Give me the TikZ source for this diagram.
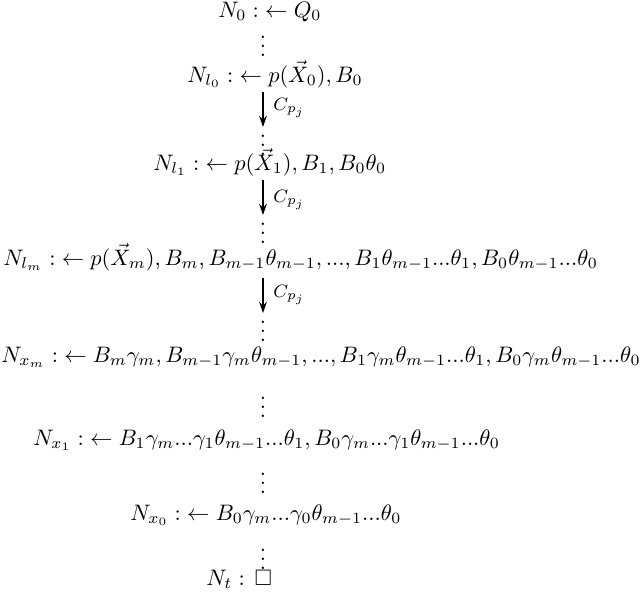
\documentclass[tikz,border=0pt]{standalone}
\usepackage{amsmath,amssymb}
\usetikzlibrary{arrows.meta}
\begin{document}
\begin{tikzpicture}[x=0.5pt,y=-0.5pt,
  every node/.style={scale=1.12},
  line/.style={anchor=base west,inner sep=0pt},
  dts/.style={inner sep=0pt},
  stepar/.style={line width=1.3pt,-{Stealth[length=5.5pt,width=3.8pt]}},
  lab/.style={anchor=west,inner sep=0pt,font=\footnotesize}]
\useasboundingbox (0,0) rectangle (640,600);
\node[line] (n0) at (218,17) {$N_0 :\; \leftarrow Q_0$};
\node[dts] (d0) at (263,40) {$\vdots$};
\node[line] (l0) at (187,82) {$N_{l_0} :\; \leftarrow p(\vec{X}_0), B_0$};
\coordinate (a1s) at (263,92);
\coordinate (a1e) at (263,127);
\node[dts] (d1) at (263,139) {$\vdots$};
\draw[stepar] (a1s) -- (a1e);
\node[lab] (c1) at (273,108) {$C_{p_j}$};
\node[line] (l1) at (153,170) {$N_{l_1} :\; \leftarrow p(\vec{X}_1), B_1, B_0\theta_0$};
\coordinate (a2s) at (263,180);
\coordinate (a2e) at (263,215);
\draw[stepar] (a2s) -- (a2e);
\node[lab] (c2) at (273,200) {$C_{p_j}$};
\node[dts] (d2) at (263,227) {$\vdots$};
\node[line] (lm) at (3,265) {$N_{l_m} :\; \leftarrow p(\vec{X}_m), B_m, B_{m-1}\theta_{m-1}, ..., B_1\theta_{m-1}...\theta_1, B_0\theta_{m-1}...\theta_0$};
\coordinate (a3s) at (263,278);
\coordinate (a3e) at (263,313);
\draw[stepar] (a3s) -- (a3e);
\node[lab] (c3) at (273,295) {$C_{p_j}$};
\node[dts] (d3) at (263,325) {$\vdots$};
\node[line] (xm) at (1,362) {$N_{x_m} :\; \leftarrow B_m\gamma_m, B_{m-1}\gamma_m\theta_{m-1}, ..., B_1\gamma_m\theta_{m-1}...\theta_1, B_0\gamma_m\theta_{m-1}...\theta_0$};
\node[dts] (d4) at (263,401) {$\vdots$};
\node[line] (x1) at (33,445) {$N_{x_1} :\; \leftarrow B_1\gamma_m...\gamma_1\theta_{m-1}...\theta_1, B_0\gamma_m...\gamma_1\theta_{m-1}...\theta_0$};
\node[dts] (d5) at (263,477) {$\vdots$};
\node[line] (x0) at (130,520) {$N_{x_0} :\; \leftarrow B_0\gamma_m...\gamma_0\theta_{m-1}...\theta_0$};
\node[dts] (d6) at (263,553) {$\vdots$};
\node[line] (nt) at (206,585) {$N_t :\, \Box$};
\end{tikzpicture}
\end{document}
